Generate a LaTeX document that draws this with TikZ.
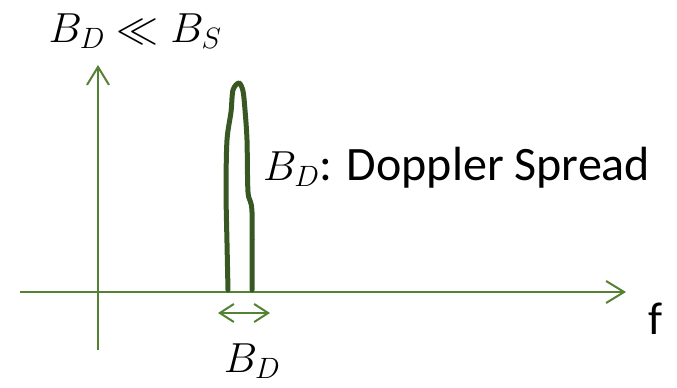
\RequirePackage{fix-cm}
\documentclass[tikz,border=0pt]{standalone}
\usepackage{fontspec}
\setmainfont{Carlito}
\usetikzlibrary{arrows.meta}
\definecolor{axisgreen}{HTML}{548235}
\definecolor{pulsegreen}{HTML}{385723}
\tikzset{
  axisline/.style={draw=axisgreen, line width=2pt, -{Straight Barb[length=18pt,width=22pt,line width=2pt]}},
  bwarrow/.style={draw=axisgreen, line width=2pt, {Straight Barb[length=14pt,width=18pt,line width=2pt]}-{Straight Barb[length=14pt,width=18pt,line width=2pt]}},
  pulse/.style={draw=pulsegreen, line width=5pt, line join=round, line cap=round},
  lbl/.style={inner sep=0pt, font=\fontsize{42}{50}\selectfont},
}
\begin{document}
\begin{tikzpicture}[x=1pt, y=-1pt]
\useasboundingbox (0,0) rectangle (677,388);
% axes
\coordinate (hstart) at (20,292);
\coordinate (hend) at (626,292);
\coordinate (vstart) at (98,350);
\coordinate (vend) at (98,65);
\draw[axisline] (hstart) -- (hend);
\draw[axisline] (vstart) -- (vend);
% pulse
\draw[pulse] plot[smooth, tension=0.5] coordinates {(228,290) (227,243) (226,190) (227,140) (231,112) (233,90) (239,83) (243,91) (245,110) (247,140) (248,192) (252,212) (252,290)};
% bandwidth arrow
\coordinate (bwl) at (218,313);
\coordinate (bwr) at (270,313);
\draw[bwarrow] (bwl) -- (bwr);
% labels
\node[lbl, anchor=base] (top) at (135,42) {$B_D \ll B_S$};
\node[lbl, anchor=base west] (spread) at (263,180) {$B_D$\fontsize{48}{58}\selectfont: Doppler Spread};
\node[lbl, anchor=base, font=\fontsize{46}{54}\selectfont] (f) at (656,334) {f};
\node[lbl, anchor=base] (bd) at (252,372) {$B_D$};
\end{tikzpicture}
\end{document}
